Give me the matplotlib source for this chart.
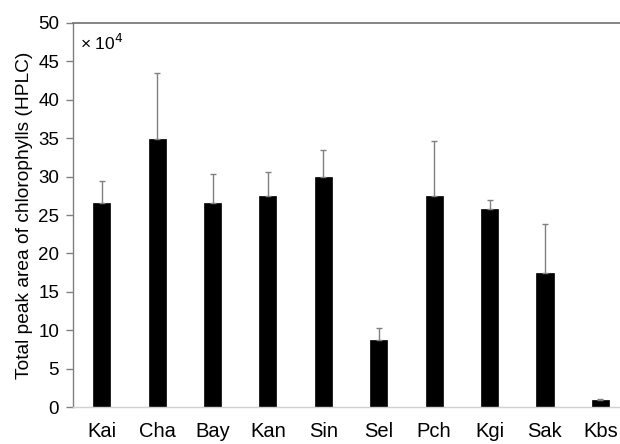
import matplotlib
matplotlib.use("Agg")
import matplotlib.pyplot as plt
import numpy as np

plt.rcParams['font.family'] = ['Liberation Sans', 'DejaVu Sans']

sites = ["Kai", "Cha", "Bay", "Kan", "Sin", "Sel", "Pch", "Kgi", "Sak", "Kbs"]
peak_area = [26.5, 34.9, 26.5, 27.5, 29.9, 8.7, 27.5, 25.8, 17.5, 0.9]   # × 10^4
peak_sd = [2.9, 8.6, 3.8, 3.1, 3.6, 1.6, 7.2, 1.1, 6.3, 0.2]
y_ticks = [0, 5, 10, 15, 20, 25, 30, 35, 40, 45, 50]

W, H = 620, 444
fig = plt.figure(figsize=(W / 100, H / 100), dpi=100)
ax = fig.add_axes([73 / W, (H - 407) / H, (620 - 73) / W, (407 - 23) / H])

x = np.arange(len(sites))
ax.bar(x, peak_area, width=0.31, color="black", edgecolor="black", linewidth=0.5,
       yerr=[np.zeros(len(sites)), peak_sd],
       error_kw=dict(ecolor="#808080", elinewidth=1.0, capsize=2.5, capthick=1.0))

ax.set_xlim(-0.518, 9.355)
ax.set_ylim(0, 50)
ax.set_yticks(y_ticks)
ax.set_xticks(x)
ax.set_xticklabels(sites, fontsize=14.5)
ax.tick_params(axis="y", labelsize=13.5, direction="out", length=5, width=1,
               color="#808080", pad=5)
ax.tick_params(axis="x", length=0, pad=11)

ax.spines["right"].set_visible(False)
ax.spines["top"].set_color("#707070")
ax.spines["top"].set_linewidth(1.2)
ax.spines["left"].set_color("#808080")
ax.spines["left"].set_linewidth(1.0)
ax.spines["bottom"].set_color("#d0d0d0")
ax.spines["bottom"].set_linewidth(1.0)

ax.set_ylabel("Total peak area of chlorophylls (HPLC)", fontsize=13.8, labelpad=4)
ax.text(0.012, 0.975, "× 10$^{4}$", transform=ax.transAxes, fontsize=12.5,
        ha="left", va="top")

fig.savefig("out.png", dpi=100)
